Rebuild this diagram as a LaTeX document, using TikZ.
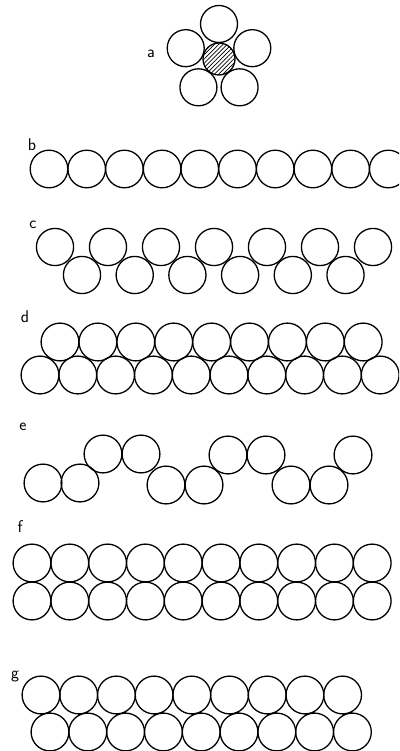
\documentclass[tikz,border=0pt]{standalone}
\usetikzlibrary{patterns.meta}
\begin{document}
\begin{tikzpicture}[x=1pt, y=-1pt, line width=1.3pt, font=\sffamily\fontsize{17}{20}\selectfont, line join=round, line cap=round]
\tikzset{ball/.style={draw, line width=1.3pt}}
\clip (0,0) rectangle (399,751);
% a
\path (151,54) node (la) {a};
\filldraw[ball, pattern={Lines[angle=45, distance=3pt, line width=0.7pt]}] (219,59) circle (16pt);
\foreach \k in {0,...,4} \draw[ball] (219,59) ++(270+72*\k:35) circle (18.5pt);
% b
\path (32,145) node (lb) {b};
\foreach \i in {0,...,9} \draw[ball] (49+37.7*\i,169) circle (18.8pt);
% c
\path (33,225) node (lc) {c};
\foreach \i in {0,...,6} \draw[ball] (55+53*\i,247) circle (18.6pt);
\foreach \i in {0,...,5} \draw[ball] (82+52.7*\i,275) circle (18.6pt);
% d
\path (25,317) node (ld) {d};
\foreach \i in {0,...,8} \draw[ball] (60+37.9*\i,342) circle (18.9pt);
\foreach \i in {0,...,9} \draw[ball] (40+37.8*\i,375) circle (18.9pt);
% e
\path (23,427) node (le) {e};
\foreach \x/\y in {43/483,80/483,103/454,141/454,166/485,204/485,228/455,266/455,291/485,329/485,353/455}
  \draw[ball] (\x,\y) circle (18.9pt);
% f
\path (20,527) node (lf) {f};
\foreach \i in {0,...,9} \draw[ball] (32+37.8*\i,563) circle (18.9pt) (32+37.8*\i,601) circle (18.9pt);
% g
\path (15,677) node (lg) {g};
\foreach \i in {0,...,8} \draw[ball] (41+37.7*\i,695) circle (18.9pt) (50+37.8*\i,732) circle (18.9pt);
\end{tikzpicture}
\end{document}
